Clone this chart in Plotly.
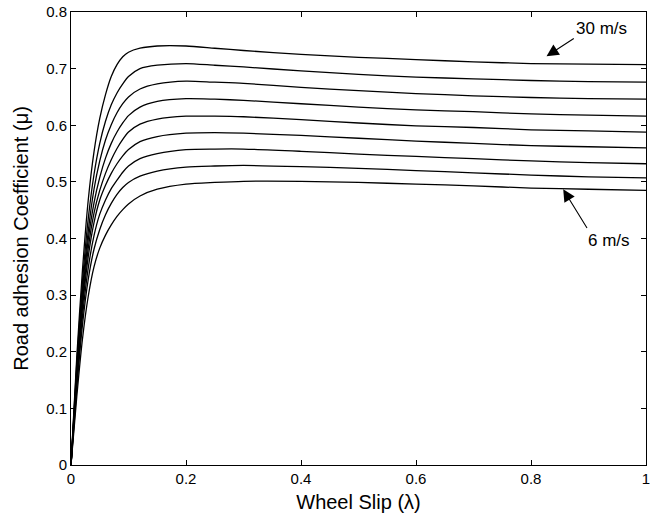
import plotly.graph_objects as go

# Wheel slip sample points
slip = [0, 0.01, 0.02, 0.03, 0.04, 0.05, 0.06, 0.07, 0.08, 0.09, 0.10, 0.12, 0.15,
        0.20, 0.25, 0.30, 0.40, 0.50, 0.60, 0.70, 0.80, 0.90, 1.00]

# Road adhesion coefficient per vehicle speed
mu_30 = [0, 0.190, 0.345, 0.468, 0.553, 0.612, 0.654, 0.686, 0.707, 0.721, 0.729, 0.736, 0.740,
         0.740, 0.736, 0.732, 0.725, 0.720, 0.716, 0.712, 0.709, 0.708, 0.707]
mu_27 = [0, 0.180, 0.325, 0.435, 0.513, 0.568, 0.607, 0.636, 0.657, 0.673, 0.686, 0.700, 0.706,
         0.709, 0.706, 0.703, 0.696, 0.690, 0.685, 0.682, 0.679, 0.677, 0.676]
mu_24 = [0, 0.170, 0.310, 0.413, 0.487, 0.537, 0.574, 0.601, 0.622, 0.638, 0.650, 0.664, 0.673,
         0.678, 0.676, 0.674, 0.667, 0.661, 0.656, 0.652, 0.649, 0.647, 0.646]
mu_21 = [0, 0.165, 0.298, 0.398, 0.463, 0.508, 0.542, 0.568, 0.588, 0.604, 0.617, 0.632, 0.642,
         0.647, 0.646, 0.644, 0.638, 0.632, 0.627, 0.624, 0.620, 0.618, 0.616]
mu_18 = [0, 0.160, 0.288, 0.383, 0.445, 0.485, 0.515, 0.539, 0.559, 0.575, 0.588, 0.602, 0.611,
         0.616, 0.616, 0.615, 0.610, 0.604, 0.599, 0.596, 0.592, 0.590, 0.588]
mu_15 = [0, 0.155, 0.278, 0.368, 0.428, 0.468, 0.494, 0.515, 0.532, 0.546, 0.557, 0.571, 0.580,
         0.586, 0.587, 0.586, 0.582, 0.577, 0.572, 0.568, 0.564, 0.562, 0.560]
mu_12 = [0, 0.145, 0.263, 0.348, 0.405, 0.443, 0.468, 0.488, 0.503, 0.517, 0.528, 0.541, 0.550,
         0.557, 0.558, 0.558, 0.554, 0.549, 0.545, 0.541, 0.537, 0.534, 0.532]
mu_9 = [0, 0.135, 0.248, 0.328, 0.381, 0.416, 0.442, 0.462, 0.478, 0.490, 0.499, 0.510, 0.519,
        0.526, 0.528, 0.529, 0.527, 0.524, 0.520, 0.516, 0.512, 0.509, 0.507]
mu_6 = [0, 0.120, 0.223, 0.298, 0.350, 0.383, 0.406, 0.424, 0.439, 0.451, 0.461, 0.475, 0.487,
        0.496, 0.499, 0.501, 0.501, 0.499, 0.496, 0.493, 0.489, 0.487, 0.485]

series = [mu_30, mu_27, mu_24, mu_21, mu_18, mu_15, mu_12, mu_9, mu_6]
speeds = ["30 m/s", "27 m/s", "24 m/s", "21 m/s", "18 m/s", "15 m/s", "12 m/s", "9 m/s", "6 m/s"]

x_ticks = [0, 0.2, 0.4, 0.6, 0.8, 1]
x_tick_labels = ["0", "0.2", "0.4", "0.6", "0.8", "1"]
y_ticks = [0, 0.1, 0.2, 0.3, 0.4, 0.5, 0.6, 0.7, 0.8]
y_tick_labels = ["0", "0.1", "0.2", "0.3", "0.4", "0.5", "0.6", "0.7", "0.8"]

FONT = "Liberation Sans, Arial, Helvetica, sans-serif"

fig = go.Figure()
for name, ys in zip(speeds, series):
    fig.add_trace(go.Scatter(x=slip, y=ys, mode="lines", name=name,
                             line=dict(color="black", width=1.3, shape="spline", smoothing=0.7),
                             showlegend=False))

axis_common = dict(showline=True, linecolor="black", linewidth=1, mirror="ticks",
                   ticks="inside", ticklen=5, tickcolor="black", showgrid=False,
                   zeroline=False, automargin=False,
                   tickfont=dict(family=FONT, size=15, color="black"))

fig.update_xaxes(range=[0, 1], tickvals=x_ticks, ticktext=x_tick_labels,
                 title=dict(text="Wheel Slip (λ)", font=dict(family=FONT, size=20, color="black"),
                            standoff=8),
                 **axis_common)
fig.update_yaxes(range=[0, 0.8], tickvals=y_ticks, ticktext=y_tick_labels,
                 title=dict(text="Road adhesion Coefficient (μ)", font=dict(family=FONT, size=20, color="black"),
                            standoff=12),
                 **axis_common)

# Arrow annotations
fig.add_annotation(x=0.827, y=0.722, ax=0.877, ay=0.755, xref="x", yref="y", axref="x", ayref="y",
                   text="", showarrow=True, arrowhead=2, arrowsize=2.2, arrowwidth=1.1, arrowcolor="black")
fig.add_annotation(x=0.923, y=0.771, xref="x", yref="y", text="30 m/s", showarrow=False,
                   font=dict(family=FONT, size=17, color="black"))
fig.add_annotation(x=0.856, y=0.487, ax=0.899, ay=0.416, xref="x", yref="y", axref="x", ayref="y",
                   text="", showarrow=True, arrowhead=2, arrowsize=2.2, arrowwidth=1.1, arrowcolor="black")
fig.add_annotation(x=0.936, y=0.397, xref="x", yref="y", text="6 m/s", showarrow=False,
                   font=dict(family=FONT, size=17, color="black"))

fig.update_layout(width=669, height=520, margin=dict(l=71, r=23, t=12, b=55, autoexpand=False),
                  plot_bgcolor="white", paper_bgcolor="white",
                  font=dict(family=FONT, color="black"))

fig.write_html("out.html", config={"displayModeBar": False},
               post_script="document.body.style.margin='0px';")
